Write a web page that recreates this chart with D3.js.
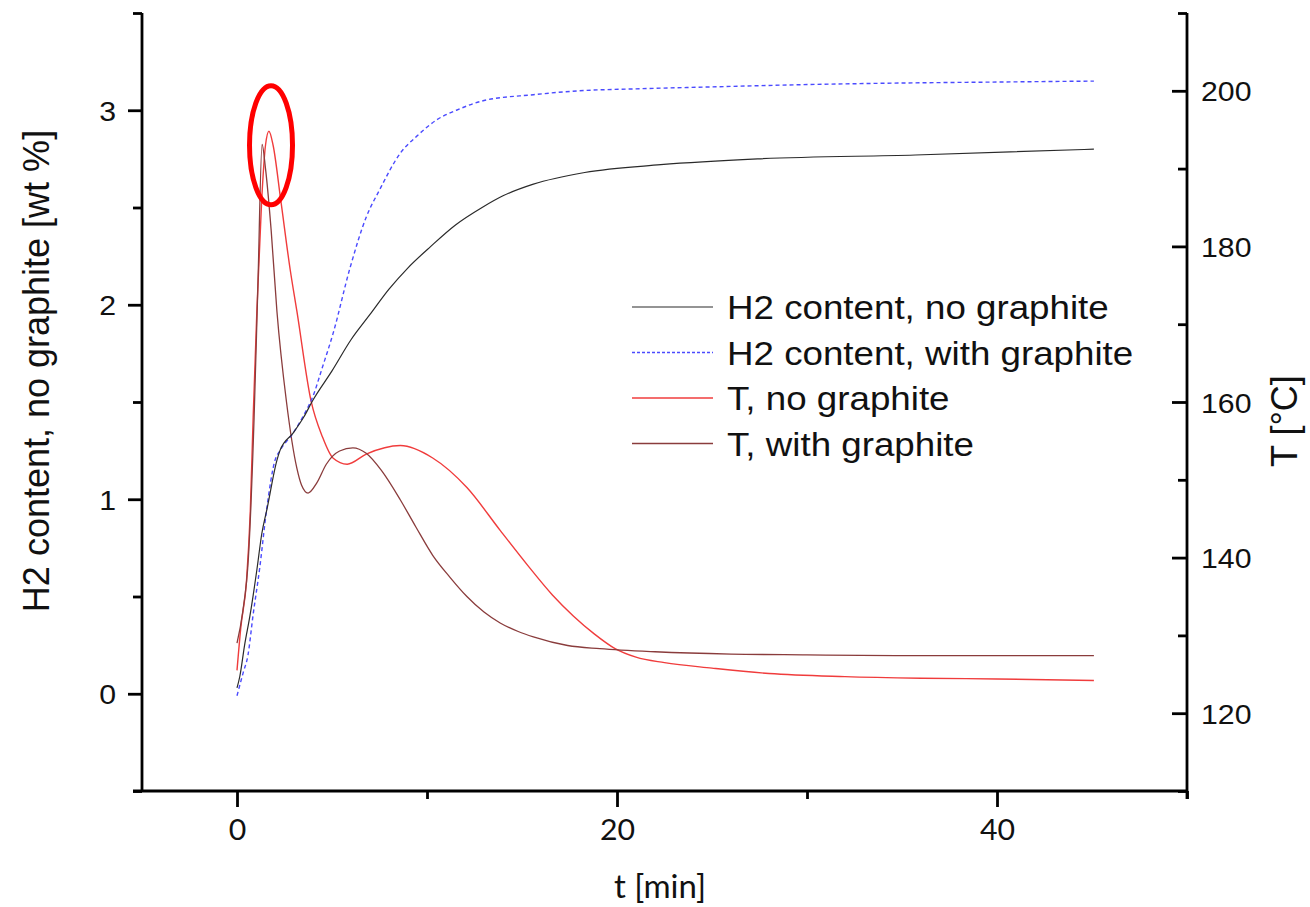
<!DOCTYPE html>
<html>
<head>
<meta charset="utf-8">
<script src="https://cdn.jsdelivr.net/npm/d3@7"></script>
<style>
  html, body { margin: 0; padding: 0; background: #fff; }
  svg { display: block; }
</style>
</head>
<body>
<svg id="chart" width="1310" height="907"></svg>
<script>
// ---------- DATA ----------
// [t (min), H2 content (wt %)]
const h2NoGraphite = [
  [0,0.03],[0.15,0.09],[0.4,0.25],[0.68,0.40],[1.05,0.64],[1.3,0.82],[1.58,0.95],
  [2.1,1.2],[2.26,1.25],[2.95,1.34],[3.5,1.42],[4.0,1.51],[5.0,1.66],[6.0,1.82],
  [7.0,1.95],[8.0,2.08],[9.0,2.19],[10.2,2.30],[11.5,2.41],[12.9,2.50],[14.0,2.56],
  [15.6,2.62],[18.3,2.68],[22.3,2.72],[27.4,2.75],[35.7,2.77],[45.1,2.80]
];
const h2WithGraphite = [
  [0,-0.01],[0.33,0.11],[0.58,0.20],[0.84,0.40],[1.2,0.65],[1.55,0.94],[2.0,1.2],
  [2.26,1.25],[2.95,1.34],[3.5,1.43],[4.0,1.53],[4.5,1.68],[5.05,1.85],[5.95,2.19],
  [6.8,2.45],[7.5,2.59],[8.6,2.78],[9.5,2.87],[10.5,2.95],[11.55,3.0],[13.0,3.05],
  [15.6,3.08],[18.0,3.10],[21.0,3.11],[25.0,3.12],[29.0,3.13],[35.0,3.14],[40.0,3.145],[45.1,3.15]
];
// [t (min), T (°C)]
const tempNoGraphite = [
  [0,125.5],[0.2,131],[0.5,137],[0.7,146],[0.85,158],[1.05,172],[1.3,186],[1.5,193],
  [1.68,194.8],[1.9,193],[2.3,186],[2.8,177],[3.15,171.7],[3.9,160.1],[4.5,155.5],
  [5.05,152.8],[5.8,152],[6.8,153.3],[8.6,154.4],[10.3,152.8],[12.1,149],[13.85,143.5],
  [15.3,139],[16.6,135.2],[17.7,132.5],[18.8,130.2],[19.9,128.3],[21,127.2],[22.5,126.5],
  [25,125.8],[28,125.1],[32,124.7],[36,124.5],[40,124.4],[45.1,124.2]
];
const tempWithGraphite = [
  [0,129],[0.3,133],[0.6,140],[0.9,158],[1.1,175],[1.32,193.1],[1.5,190],[1.8,182],
  [2.1,171.7],[2.6,160.1],[3.15,151.5],[3.4,149.3],[3.74,148.3],[4.2,149.6],[4.7,152],
  [5.4,153.7],[6.1,154.1],[6.8,153.4],[7.6,151.2],[8.6,147.4],[9.4,144],[10.3,140.3],
  [11.2,137.5],[12.1,135],[13,133],[13.85,131.6],[14.8,130.5],[15.6,129.8],[17.4,128.7],
  [19.1,128.3],[22,127.9],[26,127.6],[30,127.5],[35,127.4],[45.1,127.4]
];
const xTicks = [0, 10, 20, 30, 40, 50];
const xTickLabels = [0, 20, 40];
const yLeftTicks = [-0.5, 0, 0.5, 1, 1.5, 2, 2.5, 3, 3.5];
const yLeftTickLabels = [0, 1, 2, 3];
const yRightTicks = [110, 120, 130, 140, 150, 160, 170, 180, 190, 200, 210];
const yRightTickLabels = [120, 140, 160, 180, 200];
const legendLabels = ["H2 content, no graphite", "H2 content, with graphite", "T, no graphite", "T, with graphite"];
const highlightCenter = [1.79, 2.82]; // t, H2 wt% of annotated peak

// ---------- LAYOUT ----------
const svg = d3.select("#chart");
const L = 142, R = 1187, T = 13, B = 791;
const x = d3.scaleLinear().domain([-5, 50]).range([L, R]);
const yL = d3.scaleLinear().domain([-0.5, 3.5]).range([B, T]);
const yR = d3.scaleLinear().domain([110, 210]).range([B, T]);
const STRETCH = 1.08;
const SANS = "'Liberation Sans', Arial, sans-serif";
const XFONT = "Lato, 'Liberation Sans', sans-serif";

function stretch(sel, f) {
  sel.each(function () {
    const len = this.getComputedTextLength();
    d3.select(this).attr("textLength", len * f).attr("lengthAdjust", "spacingAndGlyphs");
  });
}

// ---------- CURVES ----------
const lineL = d3.line().x(d => x(d[0])).y(d => yL(d[1])).curve(d3.curveMonotoneX);
const lineR = d3.line().x(d => x(d[0])).y(d => yR(d[1])).curve(d3.curveMonotoneX);

const styles = [
  { color: "#2a2a2a", dash: null, width: 1.2 },
  { color: "#4a4aff", dash: "4,3", width: 1.4 },
  { color: "#f03c3c", dash: null, width: 1.4 },
  { color: "#8a3c3c", dash: null, width: 1.3 }
];

svg.append("path").datum(tempNoGraphite).attr("d", lineR)
  .attr("fill", "none").attr("stroke", styles[2].color).attr("stroke-width", styles[2].width);
svg.append("path").datum(tempWithGraphite).attr("d", lineR)
  .attr("fill", "none").attr("stroke", styles[3].color).attr("stroke-width", styles[3].width);
svg.append("path").datum(h2WithGraphite).attr("d", lineL)
  .attr("fill", "none").attr("stroke", styles[1].color).attr("stroke-width", styles[1].width)
  .attr("stroke-dasharray", styles[1].dash);
svg.append("path").datum(h2NoGraphite).attr("d", lineL)
  .attr("fill", "none").attr("stroke", styles[0].color).attr("stroke-width", styles[0].width);

// ---------- AXES ----------
const axW = 2.8;
// bottom axis
const gx = svg.append("g").attr("transform", `translate(0,${B})`)
  .call(d3.axisBottom(x).tickValues(xTicks).tickSizeOuter(0)
    .tickSize(0).tickFormat(""));
gx.select(".domain").remove();
svg.append("line").attr("x1", L - 9).attr("x2", R).attr("y1", B).attr("y2", B)
  .attr("stroke", "#000").attr("stroke-width", axW);
gx.selectAll(".tick").each(function (d) {
  const major = xTickLabels.includes(d);
  const g = d3.select(this);
  g.select("line").attr("y2", major ? 16 : 8).attr("stroke", "#000").attr("stroke-width", axW);
  if (major) {
    g.select("text").text(d).attr("y", 49).attr("dy", null)
      .attr("font-family", XFONT).attr("font-size", 28).attr("fill", "#111")
      .attr("text-anchor", "middle");
  } else {
    g.select("text").remove();
  }
});

// left axis
const gl = svg.append("g").attr("transform", `translate(${L},0)`)
  .call(d3.axisLeft(yL).tickValues(yLeftTicks).tickSize(0).tickFormat(""));
gl.select(".domain").remove();
svg.append("line").attr("x1", L).attr("x2", L).attr("y1", T).attr("y2", B)
  .attr("stroke", "#000").attr("stroke-width", axW);
gl.selectAll(".tick").each(function (d) {
  const major = yLeftTickLabels.includes(d);
  const g = d3.select(this);
  g.select("line").attr("x2", major ? -14 : -9).attr("stroke", "#000").attr("stroke-width", axW);
  if (major) {
    g.select("text").text(d).attr("x", -26).attr("dy", "0.36em")
      .attr("font-family", SANS).attr("font-size", 28).attr("fill", "#111")
      .attr("text-anchor", "end");
  } else {
    g.select("text").remove();
  }
});

// right axis (ticks point inward)
const gr = svg.append("g").attr("transform", `translate(${R},0)`)
  .call(d3.axisRight(yR).tickValues(yRightTicks).tickSize(0).tickFormat(""));
gr.select(".domain").remove();
svg.append("line").attr("x1", R).attr("x2", R).attr("y1", T).attr("y2", B + 8)
  .attr("stroke", "#000").attr("stroke-width", axW);
gr.selectAll(".tick").each(function (d) {
  const major = yRightTickLabels.includes(d);
  const g = d3.select(this);
  g.select("line").attr("x2", major ? -15 : -9).attr("stroke", "#000").attr("stroke-width", axW);
  if (major) {
    g.select("text").text(d).attr("x", 14).attr("dy", "0.36em")
      .attr("font-family", SANS).attr("font-size", 28).attr("fill", "#111")
      .attr("text-anchor", "start");
  } else {
    g.select("text").remove();
  }
});
stretch(svg.selectAll(".tick text"), STRETCH);

// axis titles
svg.append("text").attr("transform", "translate(49,371) rotate(-90)")
  .attr("text-anchor", "middle").attr("font-family", SANS).attr("font-size", 36).attr("fill", "#111")
  .text("H2 content, no graphite [wt %]");
svg.append("text").attr("transform", "translate(1297,421) rotate(-90)")
  .attr("text-anchor", "middle").attr("font-family", SANS).attr("font-size", 36).attr("fill", "#111")
  .text("T [°C]");
svg.append("text").attr("x", 660).attr("y", 898)
  .attr("text-anchor", "middle").attr("font-family", XFONT).attr("font-size", 33).attr("fill", "#111")
  .text("t [min]");

// ---------- LEGEND ----------
const leg = svg.append("g").attr("transform", "translate(632,307)");
legendLabels.forEach((lab, i) => {
  const yy = i * 45.5;
  const s = styles[i];
  leg.append("line").attr("x1", 0).attr("x2", 81).attr("y1", yy).attr("y2", yy)
    .attr("stroke", s.color).attr("stroke-width", s.width)
    .attr("stroke-dasharray", s.dash ? "3,2" : null);
  leg.append("text").attr("x", 95).attr("y", yy + 12)
    .attr("font-family", SANS).attr("font-size", 34).attr("fill", "#111")
    .text(lab);
});
stretch(leg.selectAll("text"), STRETCH);

// ---------- ANNOTATION ----------
svg.append("ellipse")
  .attr("cx", x(highlightCenter[0])).attr("cy", yL(highlightCenter[1]))
  .attr("rx", 21.5).attr("ry", 59.5)
  .attr("fill", "none").attr("stroke", "#ff0000").attr("stroke-width", 5);
</script>
</body>
</html>
